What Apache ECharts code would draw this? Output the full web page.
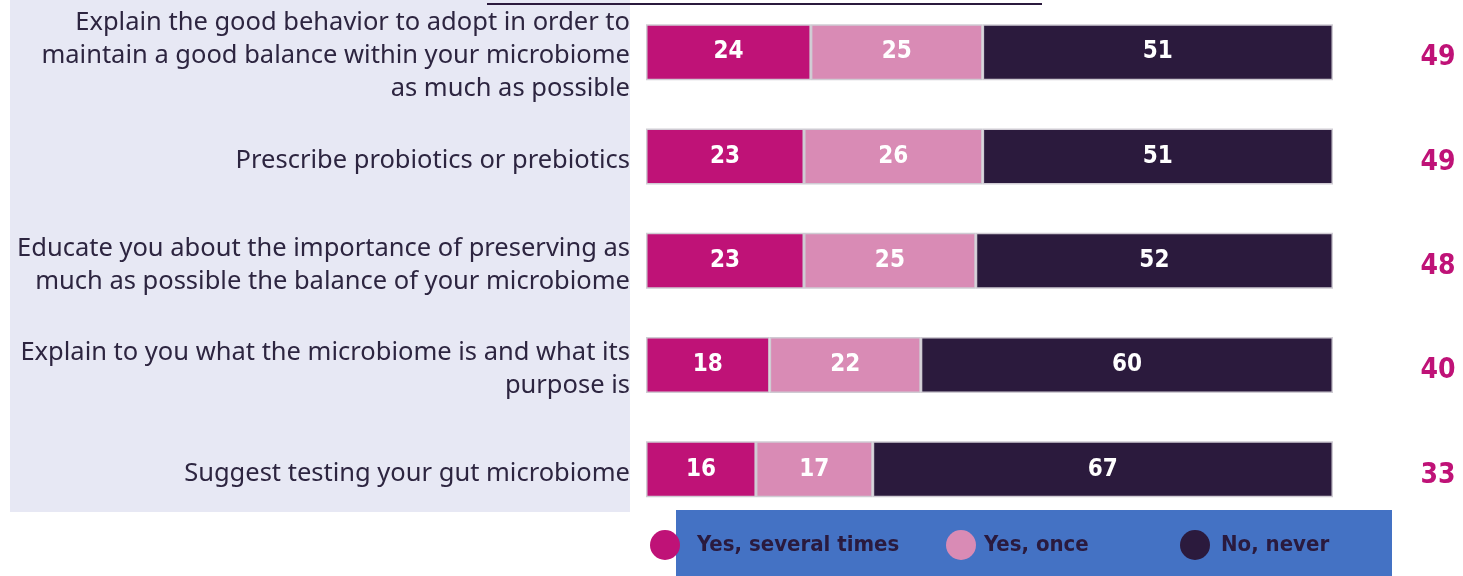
<!DOCTYPE html>
<html>
<head>
<meta charset="utf-8">
<script src="https://cdn.jsdelivr.net/npm/echarts@6/dist/echarts.min.js"></script>
<style>
  html, body { margin: 0; padding: 0; background: #ffffff; }
  #chart { width: 1463px; height: 576px; }
</style>
</head>
<body>
<div id="chart"></div>
<script>
// Survey items (top to bottom)
const categories = [
  'Explain the good behavior to adopt in order to\nmaintain a good balance within your microbiome\nas much as possible',
  'Prescribe probiotics or prebiotics',
  'Educate you about the importance of preserving as\nmuch as possible the balance of your microbiome',
  'Explain to you what the microbiome is and what its\npurpose is',
  'Suggest testing your gut microbiome'
];
const seriesNames = ['Yes, several times', 'Yes, once', 'No, never'];
const severalTimes = [24, 23, 23, 18, 16];
const once = [25, 26, 25, 22, 17];
const never = [51, 51, 52, 60, 67];
// Total "yes" shown on the right
const totalYes = severalTimes.map((v, i) => v + once[i]);

const colors = ['#bf1277', '#d98bb5', '#2b1a3d'];
const inkColor = '#2d2540';
const numFont = '"Liberation Sans Narrow", "DejaVu Sans Condensed", "Roboto", sans-serif';
const textFont = '"Noto Sans", "Open Sans", sans-serif';

const chart = echarts.init(document.getElementById('chart'), null, { renderer: 'canvas' });

function barSeries(name, data, color) {
  return {
    name: name,
    type: 'bar',
    stack: 'total',
    data: data,
    barWidth: 56,
    itemStyle: { color: color, borderColor: '#cfcbd3', borderWidth: 1.5 },
    label: {
      show: true,
      position: 'inside',
      color: '#ffffff',
      fontFamily: numFont,
      fontWeight: 'bold',
      fontSize: 24
    },
    emphasis: { disabled: true }
  };
}

function legendItem(name, left, gap) {
  return {
    data: [name],
    left: left,
    top: 525,
    icon: 'circle',
    itemWidth: 30,
    itemHeight: 30,
    z: 10,
    selectedMode: false,
    itemStyle: { borderWidth: 0 },
    textStyle: {
      color: '#2a1a3e',
      fontFamily: numFont,
      fontWeight: 'bold',
      fontSize: 22,
      padding: [0, 0, 0, gap]
    }
  };
}

// Category label: a small spacer line on top nudges the text block slightly down
function categoryLabel(value) {
  const lines = value.split('\n').map(l => '{t|' + l + '}');
  return '{s|}\n' + lines.join('\n');
}

const option = {
  animation: false,
  backgroundColor: '#ffffff',
  color: colors,
  graphic: [
    {
      type: 'rect',
      z: 0,
      shape: { x: 10, y: 0, width: 620, height: 512 },
      style: { fill: '#e7e8f4' }
    },
    {
      type: 'rect',
      z: 0,
      shape: { x: 676, y: 510, width: 716, height: 66 },
      style: { fill: '#4472c4' }
    },
    {
      type: 'line',
      z: 0,
      shape: { x1: 487, y1: 4, x2: 1042, y2: 4 },
      style: { stroke: '#2b1a3d', lineWidth: 2 }
    }
  ],
  legend: [
    legendItem(seriesNames[0], 645, 12),
    legendItem(seriesNames[1], 941, 3),
    legendItem(seriesNames[2], 1175, 6)
  ],
  grid: {
    left: 646,
    right: 130,
    top: 0,
    bottom: 54.5,
    containLabel: false,
    outerBoundsMode: 'none'
  },
  xAxis: {
    type: 'value',
    min: 0,
    max: 100,
    show: false
  },
  yAxis: [
    {
      type: 'category',
      data: categories,
      inverse: true,
      axisLine: { show: false },
      axisTick: { show: false },
      axisLabel: {
        margin: 16,
        align: 'right',
        formatter: categoryLabel,
        rich: {
          s: { height: 8, lineHeight: 8, fontSize: 1 },
          t: {
            color: inkColor,
            fontFamily: textFont,
            fontSize: 25.5,
            lineHeight: 33,
            align: 'right'
          }
        }
      }
    },
    {
      type: 'category',
      data: totalYes,
      inverse: true,
      position: 'right',
      axisLine: { show: false },
      axisTick: { show: false },
      axisLabel: {
        margin: 105,
        align: 'center',
        verticalAlign: 'top',
        lineHeight: 12,
        color: '#bf1277',
        fontFamily: numFont,
        fontWeight: 'bold',
        fontSize: 28
      }
    }
  ],
  series: [
    barSeries(seriesNames[0], severalTimes, colors[0]),
    barSeries(seriesNames[1], once, colors[1]),
    barSeries(seriesNames[2], never, colors[2])
  ]
};

chart.setOption(option);
</script>
</body>
</html>
